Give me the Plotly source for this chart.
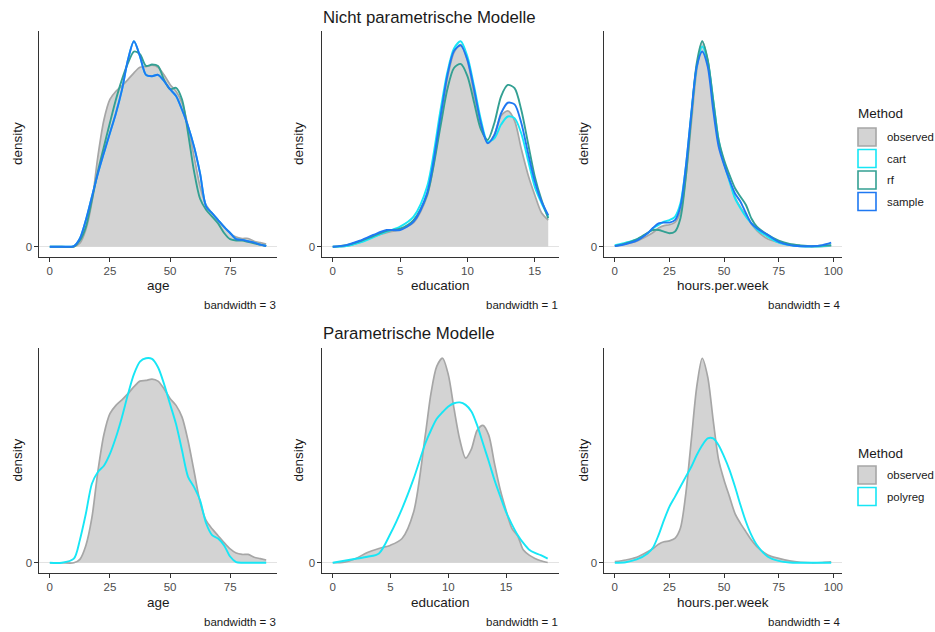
import plotly.graph_objects as go

# ---------------------------------------------------------------- data
AGE_X = [0, 5, 10, 12.5, 15, 17.5, 20, 22.5, 25, 27.5, 30, 32.5, 35, 37.5, 40, 42.5, 45,
         47.5, 50, 52.5, 55, 57.5, 60, 62.5, 65, 67.5, 70, 72.5, 75, 77.5, 80, 82.5, 85, 87.5, 90]
AGE_OBSERVED = [0, 0, 0, 0.0005, 0.0025, 0.0065, 0.0132, 0.0185, 0.0215, 0.0227, 0.0235, 0.0244,
                0.0254, 0.0262, 0.0263, 0.0265, 0.0262, 0.0251, 0.0237, 0.0227, 0.0210, 0.0176,
                0.0132, 0.0088, 0.0061, 0.0049, 0.0039, 0.0029, 0.0020, 0.0014, 0.0012, 0.0012,
                0.0008, 0.0006, 0.0004]
AGE_SAMPLE = [0, 0, 0.0001, 0.0012, 0.0039, 0.0073, 0.0107, 0.0137, 0.0166, 0.0195, 0.0229, 0.0273,
              0.0300, 0.0278, 0.0251, 0.0249, 0.0251, 0.0242, 0.0230, 0.0220, 0.0200, 0.0176,
              0.0146, 0.0107, 0.0059, 0.0049, 0.0039, 0.0029, 0.0020, 0.0011, 0.0010, 0.0008,
              0.0006, 0.0003, 0.0001]
AGE_CART = [0, 0, 0.0001, 0.0012, 0.0039, 0.0073, 0.0107, 0.0137, 0.0166, 0.0195, 0.0229, 0.0273,
            0.0300, 0.0278, 0.0251, 0.0249, 0.0251, 0.0242, 0.0230, 0.0220, 0.0200, 0.0176,
            0.0146, 0.0107, 0.0059, 0.0049, 0.0039, 0.0029, 0.0020, 0.0011, 0.0010, 0.0008,
            0.0006, 0.0003, 0.0001]
AGE_RF = [0, 0, 0, 0.0009, 0.0029, 0.0068, 0.0110, 0.0146, 0.0181, 0.0215, 0.0244, 0.0268,
          0.0285, 0.0281, 0.0264, 0.0266, 0.0264, 0.0244, 0.0230, 0.0232, 0.0215, 0.0166,
          0.0110, 0.0070, 0.0054, 0.0044, 0.0034, 0.0020, 0.0011, 0.0009, 0.0009, 0.0007,
          0.0005, 0.0003, 0.0001]
AGE_POLYREG = [0, 0, 0.0006, 0.0033, 0.0071, 0.0114, 0.0131, 0.0140, 0.0157, 0.0181, 0.0210,
               0.0243, 0.0272, 0.0290, 0.0295, 0.0294, 0.0282, 0.0258, 0.0229, 0.0200, 0.0162,
               0.0124, 0.0109, 0.0090, 0.0057, 0.0040, 0.0035, 0.0025, 0.0009, 0.0001, 0, 0,
               0, 0, 0]

EDU_X = [0, 1, 2, 3, 4, 5, 6, 7, 8, 8.5, 9, 9.5, 10, 10.5, 11, 11.5, 12, 12.5, 13, 13.5, 14,
         14.5, 15, 15.5, 16]
EDU_CART = [0, 0.0008, 0.005, 0.0116, 0.0186, 0.0248, 0.0372, 0.074, 0.169, 0.215, 0.245, 0.254,
            0.235, 0.198, 0.157, 0.130, 0.134, 0.151, 0.161, 0.159, 0.140, 0.107, 0.074, 0.054,
            0.037]
EDU_RF = [0, 0.002, 0.0066, 0.0132, 0.0198, 0.0223, 0.033, 0.064, 0.149, 0.194, 0.221, 0.226,
          0.211, 0.178, 0.145, 0.132, 0.153, 0.186, 0.200, 0.196, 0.169, 0.128, 0.087, 0.058,
          0.035]
EDU_SAMPLE = [0, 0.002, 0.0074, 0.0145, 0.0207, 0.0207, 0.031, 0.066, 0.161, 0.211, 0.242, 0.249,
              0.231, 0.194, 0.153, 0.128, 0.138, 0.165, 0.178, 0.176, 0.153, 0.116, 0.081, 0.056,
              0.039]
# observed and polyreg education densities span the wider parametric range
EDU_X_WIDE = [0, 1, 2, 3, 4, 5, 6, 7, 8, 8.5, 9, 9.5, 10, 10.5, 11, 11.5, 12, 12.5, 13, 13.5,
              14, 14.5, 15, 15.5, 16, 16.5, 17, 17.5, 18, 18.6]
EDU_OBSERVED = [0, 0.0008, 0.0053, 0.0126, 0.0175, 0.0215, 0.0297, 0.062, 0.155, 0.207, 0.240,
                0.250, 0.230, 0.188, 0.150, 0.128, 0.139, 0.162, 0.168, 0.156, 0.121, 0.089,
                0.064, 0.042, 0.033, 0.0155, 0.0093, 0.0053, 0.0024, 0.0003]
EDU_POLYREG = [0, 0.0024, 0.0049, 0.0073, 0.0114, 0.0358, 0.0663, 0.1028, 0.1455, 0.162, 0.176,
               0.184, 0.191, 0.195, 0.196, 0.193, 0.185, 0.168, 0.146, 0.124, 0.101, 0.081,
               0.062, 0.047, 0.034, 0.024, 0.016, 0.012, 0.0093, 0.0050]

HRS_X = [0, 5, 10, 15, 17.5, 20, 22.5, 25, 27.5, 30, 32.5, 35, 37.5, 40, 42.5, 45, 47.5, 50,
         52.5, 55, 57.5, 60, 62.5, 65, 70, 75, 80, 85, 90, 95, 99]
HRS_OBSERVED = [0.0004, 0.0010, 0.0020, 0.0040, 0.0052, 0.0068, 0.0077, 0.0080, 0.0089, 0.0126,
                0.0254, 0.0449, 0.0644, 0.0748, 0.0680, 0.0522, 0.0376, 0.0302, 0.0241, 0.0180,
                0.0144, 0.0113, 0.0083, 0.0059, 0.0028, 0.0016, 0.0007, 0.0002, 0.0000, 0.0001,
                0.0003]
HRS_CART = [0.0006, 0.0015, 0.0027, 0.0049, 0.0067, 0.0079, 0.0091, 0.0097, 0.0109, 0.0158,
            0.0292, 0.0486, 0.0656, 0.0729, 0.0675, 0.0535, 0.0389, 0.0304, 0.0237, 0.0176,
            0.0140, 0.0109, 0.0085, 0.0063, 0.0036, 0.0015, 0.0006, 0.0002, 0.0001, 0.0002,
            0.0005]
HRS_RF = [0.0002, 0.0012, 0.0027, 0.0051, 0.0061, 0.0061, 0.0055, 0.0049, 0.0055, 0.0103,
          0.0255, 0.0474, 0.0669, 0.0748, 0.0681, 0.0535, 0.0389, 0.0316, 0.0261, 0.0213,
          0.0182, 0.0152, 0.0103, 0.0073, 0.0043, 0.0022, 0.0010, 0.0005, 0.0002, 0.0004,
          0.0006]
HRS_SAMPLE = [0.0002, 0.0010, 0.0022, 0.0049, 0.0069, 0.0085, 0.0088, 0.0088, 0.0097, 0.0146,
              0.0292, 0.0486, 0.0656, 0.0711, 0.0656, 0.0498, 0.0365, 0.0298, 0.0243, 0.0194,
              0.0164, 0.0122, 0.0085, 0.0067, 0.0043, 0.0018, 0.0006, 0.0002, 0.0002, 0.0006,
              0.0015]
HRS_POLYREG = [0, 0.0002, 0.0012, 0.0034, 0.0056, 0.0101, 0.0156, 0.0205, 0.0241, 0.0278,
               0.0315, 0.0351, 0.0394, 0.0430, 0.0455, 0.0455, 0.0430, 0.0388, 0.0339, 0.0278,
               0.0211, 0.0150, 0.0101, 0.0065, 0.0022, 0.0007, 0.0001, 0, 0, 0, 0]

VARIABLES = ["age", "education", "hours.per.week"]
BANDWIDTHS = [3, 1, 4]
X_TICKS = [[0, 25, 50, 75], [0, 5, 10, 15], [0, 25, 50, 75, 100]]
TITLES = ["Nicht parametrische Modelle", "Parametrische Modelle"]
METHODS_TOP = ["observed", "cart", "rf", "sample"]
METHODS_BOTTOM = ["observed", "polyreg"]

# ---------------------------------------------------------------- style
W, H = 935, 632
FONT = "Liberation Sans, Arial, sans-serif"
TEXT = "#1A1A1A"
FILL_OBS = "#D3D3D3"
LINE_COLORS = {"observed": "#A6A6A6", "cart": "#17E6F5", "rf": "#33A093",
               "sample": "#1F78F2", "polyreg": "#17E6F5"}
COL_PX = [(39, 277), (322, 559), (604, 842)]
ROW_PX = [(31, 257), (348, 573)]
XRANGES = [[[-4.5, 94.5], [-0.8, 16.8], [-4.95, 103.95]],
           [[-4.5, 94.5], [-0.93, 19.58], [-4.95, 103.95]]]

edu_top = [(x, y) for x, y in zip(EDU_X_WIDE, EDU_OBSERVED) if x <= 16]
PANELS = [
    # top row: (x grid per method, densities per method)
    [({"observed": AGE_X}, {"observed": AGE_OBSERVED, "cart": AGE_CART, "rf": AGE_RF,
                            "sample": AGE_SAMPLE}, AGE_X),
     ({"observed": [x for x, _ in edu_top]}, {"observed": [y for _, y in edu_top],
                                              "cart": EDU_CART, "rf": EDU_RF,
                                              "sample": EDU_SAMPLE}, EDU_X),
     ({"observed": HRS_X}, {"observed": HRS_OBSERVED, "cart": HRS_CART, "rf": HRS_RF,
                            "sample": HRS_SAMPLE}, HRS_X)],
    # bottom row
    [({}, {"observed": AGE_OBSERVED, "polyreg": AGE_POLYREG}, AGE_X),
     ({}, {"observed": EDU_OBSERVED, "polyreg": EDU_POLYREG}, EDU_X_WIDE),
     ({}, {"observed": HRS_OBSERVED, "polyreg": HRS_POLYREG}, HRS_X)],
]


def px_x(v):
    return v / W


def px_y(v):
    return 1 - v / H


def note(text, x, y, size, xanchor="center", angle=0, color=TEXT):
    return dict(text=text, x=px_x(x), y=px_y(y), xref="paper", yref="paper",
                xanchor=xanchor, yanchor="middle", textangle=angle, showarrow=False,
                font=dict(family=FONT, size=size, color=color))


fig = go.Figure()
layout = dict(width=W, height=H, margin=dict(l=0, r=0, t=0, b=0),
              paper_bgcolor="white", plot_bgcolor="white", showlegend=False,
              font=dict(family=FONT, color=TEXT))
annotations = []
shapes = []

n = 0
for r, row in enumerate(PANELS):
    for c, (xs_override, curves, xs_default) in enumerate(row):
        n += 1
        xa = "x" if n == 1 else f"x{n}"
        ya = "y" if n == 1 else f"y{n}"
        ymax = 0
        for method, ys in curves.items():
            xv = xs_override.get(method, xs_default)
            ymax = max(ymax, max(ys))
            if method == "observed":
                fig.add_trace(go.Scatter(
                    x=xv, y=ys, mode="lines", fill="tozeroy", fillcolor=FILL_OBS,
                    line=dict(color=LINE_COLORS[method], width=1.7, shape="spline", smoothing=0.8),
                    xaxis=xa, yaxis=ya, hoverinfo="skip"))
            else:
                fig.add_trace(go.Scatter(
                    x=xv, y=ys, mode="lines",
                    line=dict(color=LINE_COLORS[method], width=1.9, shape="spline", smoothing=0.8),
                    xaxis=xa, yaxis=ya, hoverinfo="skip"))
        x0, x1 = COL_PX[c]
        y0, y1 = ROW_PX[r]
        axis_common = dict(showline=True, linecolor="#333333", linewidth=1.1,
                           ticks="outside", ticklen=3.5, tickwidth=1, tickcolor="#333333",
                           tickfont=dict(family=FONT, size=11.5, color="#4D4D4D"),
                           showgrid=False, fixedrange=True)
        layout["xaxis" if n == 1 else f"xaxis{n}"] = dict(
            axis_common, domain=[px_x(x0), px_x(x1)], anchor=ya, range=XRANGES[r][c],
            tickvals=X_TICKS[c], zeroline=False)
        layout["yaxis" if n == 1 else f"yaxis{n}"] = dict(
            axis_common, domain=[px_y(y1), px_y(y0)], anchor=xa,
            range=[-0.05 * ymax, 1.05 * ymax], tickvals=[0], ticktext=["0"],
            zeroline=True, zerolinecolor="#E3E3E3", zerolinewidth=1.3)

        # axis titles and bandwidth caption
        annotations.append(note(VARIABLES[c], (x0 + x1) / 2, 285 if r == 0 else 602, 13.5))
        annotations.append(note("density", [17, 298, 583][c], (y0 + y1) / 2, 13.5, angle=-90))
        annotations.append(note(f"bandwidth = {BANDWIDTHS[c]}", x1 + 1,
                                305 if r == 0 else 622, 11.5, xanchor="right"))

# row titles
for r, title in enumerate(TITLES):
    annotations.append(note(title, 321, 17 if r == 0 else 333, 16.8, xanchor="left"))

# legends
for methods, title_y, key_top in [(METHODS_TOP, 114, 128), (METHODS_BOTTOM, 453, 466)]:
    annotations.append(note("Method", 856, title_y, 13.5, xanchor="left"))
    for i, m in enumerate(methods):
        top = key_top + i * 21.5
        shapes.append(dict(type="rect", xref="paper", yref="paper",
                           x0=px_x(858), x1=px_x(876), y0=px_y(top + 18), y1=px_y(top),
                           fillcolor=FILL_OBS if m == "observed" else "white",
                           line=dict(color=LINE_COLORS[m], width=1.6)))
        annotations.append(note(m, 885, top + 9, 11.4, xanchor="left"))

layout["annotations"] = annotations
layout["shapes"] = shapes
fig.update_layout(**layout)
fig.write_html("out.html")
